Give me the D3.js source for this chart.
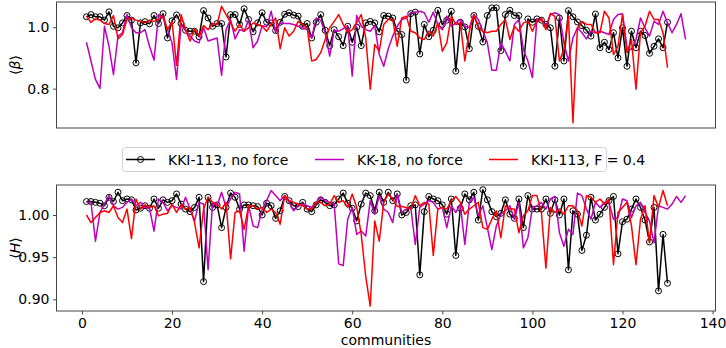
<!DOCTYPE html>
<html>
<head>
<meta charset="utf-8">
<script src="https://cdn.jsdelivr.net/npm/d3@7"></script>
<style>
  html, body { margin: 0; padding: 0; background: #fff; }
  svg { display: block; }
</style>
</head>
<body>
<div id="chart"></div>
<script>
// <beta> per community, KKI-113 without force
const betaNoForce = [
  1.034,1.041,1.034,1.034,1.023,1.050,1.003,0.998,1.014,1.038,
  1.023,0.884,1.014,1.018,1.011,1.038,1.012,1.044,0.965,1.021,
  1.040,1.012,0.990,0.987,0.987,0.969,1.054,1.030,1.003,1.012,
  1.012,0.903,1.041,1.041,1.009,1.060,1.025,0.985,1.014,1.047,
  1.016,1.014,0.989,1.016,1.042,1.047,1.039,1.036,1.003,1.012,
  0.965,1.016,1.041,0.990,0.940,0.992,0.969,0.940,1.003,0.951,
  1.000,0.940,1.014,1.019,1.014,0.985,1.038,1.036,1.030,0.987,
  0.976,0.828,1.044,1.049,0.913,1.009,0.969,0.990,1.055,1.009,
  1.023,1.052,0.857,1.016,1.001,0.930,1.038,1.003,0.952,1.038,
  1.063,1.063,0.924,1.041,1.055,1.038,1.038,0.873,1.027,1.016,
  1.027,1.023,1.009,0.998,0.873,1.030,0.890,1.054,1.034,1.017,
  1.005,0.990,0.971,1.043,0.933,0.951,0.927,0.982,0.900,0.998,
  0.873,0.987,0.933,0.987,0.973,0.915,0.938,0.962,0.933,1.016
];
// <beta>, KK-18 without force
const betaKK18 = [
  0.951,0.890,0.830,0.801,1.003,0.938,0.846,0.971,0.982,1.041,
  0.998,0.982,0.982,0.992,0.938,0.893,1.041,1.030,0.992,0.949,
  0.830,1.009,0.990,0.971,0.955,0.949,0.998,0.955,0.960,0.965,
  0.843,0.992,1.025,0.962,0.992,0.987,1.023,0.933,0.955,1.005,
  1.001,1.052,0.982,1.014,1.012,1.012,1.009,1.003,0.998,0.992,
  0.965,1.030,1.023,0.982,0.906,0.990,0.987,0.995,1.005,0.841,
  1.038,1.003,0.992,0.987,1.005,0.911,0.873,0.930,0.971,1.003,
  1.025,1.030,1.047,1.049,1.052,1.047,1.016,1.049,1.009,0.992,
  1.036,1.003,1.014,1.025,1.003,0.998,1.041,1.025,0.987,0.949,
  0.860,0.860,0.949,0.922,0.890,1.009,1.025,0.927,0.890,0.836,
  1.025,1.023,1.003,1.041,1.047,1.041,0.949,0.890,0.965,0.998,
  0.982,0.962,0.987,0.982,0.987,0.982,0.976,1.025,1.041,1.044,
  0.933,0.927,0.960,1.030,0.998,0.971,1.019,1.009,1.052,1.014,
  0.982,1.009,1.044,0.960
];
// <beta>, KKI-113 with F = 0.4
const betaF04 = [
  1.036,1.016,1.027,1.023,1.012,1.009,1.038,0.962,0.976,1.025,
  1.030,1.023,1.019,1.014,1.023,1.019,1.025,1.038,0.992,1.019,
  0.876,1.041,0.992,0.955,0.995,0.971,1.005,0.992,1.012,1.009,
  1.068,1.041,1.014,0.987,1.009,0.987,0.998,1.014,1.009,1.003,
  0.987,1.009,1.030,0.930,0.998,0.971,0.987,1.019,1.009,0.998,
  0.890,0.895,0.917,0.960,0.998,1.019,1.041,1.009,0.982,0.992,
  1.014,1.041,0.965,0.798,0.944,0.922,1.009,1.025,1.025,0.938,
  1.030,1.036,0.987,0.982,0.965,0.960,0.987,0.971,1.014,0.922,
  0.949,1.036,1.009,1.014,0.890,0.987,1.041,0.998,0.987,0.982,
  0.987,0.987,1.009,1.025,0.960,1.003,0.987,1.014,1.019,0.987,
  1.019,1.030,0.992,1.045,1.035,0.890,0.927,1.036,0.689,0.998,
  1.019,1.009,1.009,0.982,0.982,1.052,1.030,0.911,0.938,1.041,
  0.917,0.960,0.798,0.982,1.003,1.052,1.025,1.025,0.982,0.868
];

// <H> per community
const hNoForce = [
  1.016,1.016,1.015,1.014,1.011,1.021,1.016,1.027,1.017,1.019,
  1.018,1.006,1.008,1.011,1.008,1.019,1.008,1.018,1.015,1.017,
  1.025,1.013,1.007,1.004,1.009,1.021,0.921,1.021,1.009,1.012,
  0.985,1.009,1.026,1.021,1.007,1.012,1.012,1.011,1.010,1.000,
  1.014,1.011,0.996,1.005,1.022,1.017,1.011,1.010,1.015,1.007,
  1.004,1.012,1.018,1.015,1.011,1.012,1.019,1.026,1.014,1.008,
  0.993,1.013,1.026,1.023,1.005,1.027,1.015,1.027,1.017,1.025,
  1.000,1.003,1.011,1.012,0.929,1.004,1.022,1.019,1.017,1.012,
  1.001,1.019,0.952,1.008,1.025,1.018,1.027,0.994,1.030,1.018,
  1.004,0.998,1.002,1.018,1.001,0.996,1.019,0.985,1.023,1.007,
  1.007,1.007,1.019,1.002,1.018,1.000,1.019,0.935,1.005,1.001,
  0.958,0.976,1.021,0.994,1.001,1.009,1.017,1.022,0.954,0.992,
  0.995,1.007,1.019,1.009,0.994,0.968,1.009,0.910,0.977,0.919
];
const hKK18 = [
  1.015,1.015,0.969,1.003,1.013,1.023,1.011,1.007,1.009,1.015,
  1.019,1.011,1.015,1.009,1.008,0.981,1.019,1.015,1.005,1.011,
  1.009,1.007,1.021,1.007,0.993,1.015,1.013,0.935,1.015,1.011,
  1.027,1.009,1.019,1.027,1.025,0.957,1.011,0.987,0.985,1.007,
  1.017,1.029,1.023,1.017,1.023,1.015,1.005,1.011,1.013,1.011,
  1.009,1.015,1.021,1.017,1.015,1.013,0.942,0.940,0.995,1.009,
  0.977,0.981,0.975,1.017,1.001,1.023,1.007,1.003,0.991,1.025,
  1.003,1.007,1.009,0.965,1.009,1.013,1.017,1.015,1.007,1.009,
  0.985,1.011,1.003,1.013,0.965,1.015,1.021,0.999,1.011,0.985,
  0.959,0.987,1.001,1.005,1.011,0.995,1.015,0.961,0.973,1.009,
  1.011,1.015,1.007,1.019,1.022,0.979,0.963,0.983,0.977,1.026,
  1.023,1.007,0.995,1.015,1.009,1.015,1.015,0.995,0.997,1.019,
  1.017,0.997,1.011,1.015,1.003,0.993,0.967,1.011,1.009,1.007,
  1.013,1.022,1.015,1.023
];
const hF04 = [
  1.000,0.991,0.997,1.003,1.005,1.003,1.011,0.997,0.991,1.007,
  0.972,1.019,1.007,1.012,1.009,1.011,0.999,1.001,1.002,1.013,
  1.003,1.012,1.007,1.009,0.991,0.961,1.007,1.021,1.015,1.013,
  1.007,1.015,0.948,1.003,1.005,0.983,1.011,1.011,1.007,1.009,
  1.003,1.007,1.003,0.989,1.023,1.017,1.015,1.013,1.011,1.007,
  1.007,1.015,1.015,1.011,1.013,1.023,1.015,1.017,1.009,1.025,
  1.009,0.977,0.927,0.892,0.993,0.969,1.015,1.025,1.019,1.010,
  1.010,1.009,1.007,1.023,1.011,1.015,1.013,0.952,1.007,1.009,
  1.007,1.017,1.022,1.015,1.001,1.007,1.011,1.015,0.985,0.983,
  0.995,1.005,0.973,1.011,1.007,1.007,0.979,0.999,1.005,1.023,
  1.023,1.003,0.937,1.009,1.003,1.007,1.001,1.011,1.011,1.005,
  0.987,1.023,1.021,1.015,1.019,1.013,1.019,0.941,1.003,1.009,
  1.015,0.987,0.941,0.995,1.011,0.967,1.023,1.009,1.029,1.011
];

const seriesNames = ["KKI-113, no force", "KK-18, no force", "KKI-113, F = 0.4"];
const seriesColors = ["#000000", "#bf00bf", "#ff0000"];
const xTicks = [0, 20, 40, 60, 80, 100, 120, 140];
const betaTicks = [0.8, 1.0];
const hTicks = [0.90, 0.95, 1.00];

(function () {
  "use strict";
  const W = 726, H = 348;
  const FONT = "'DejaVu Sans', sans-serif";
  const FS = 14;

  const svg = d3.select("#chart").append("svg").attr("width", W).attr("height", H);

  const x = d3.scaleLinear().domain([-5.65, 140.65]).range([56.5, 715.5]);

  const panels = [
    { label: "β", series: [betaNoForce, betaKK18, betaF04],
      y: d3.scaleLinear().domain([0.672, 1.082]).range([128, 2]),
      ticks: betaTicks, fmt: d3.format(".1f"), xaxis: false },
    { label: "H", series: [hNoForce, hKK18, hF04],
      y: d3.scaleLinear().domain([0.8861, 1.0356]).range([311, 185]),
      ticks: hTicks, fmt: d3.format(".2f"), xaxis: true }
  ];

  panels.forEach(p => {
    const g = svg.append("g");
    const [y1, y0] = p.y.range();
    const clipId = "clip-" + p.label.charCodeAt(0);
    svg.append("clipPath").attr("id", clipId).append("rect")
      .attr("x", x.range()[0]).attr("y", y0)
      .attr("width", x.range()[1] - x.range()[0]).attr("height", y1 - y0);

    const line = d3.line().x((d, i) => x(i + 1)).y(d => p.y(d));
    const plot = g.append("g").attr("clip-path", `url(#${clipId})`);

    p.series.forEach((vals, k) => {
      plot.append("path").datum(vals)
        .attr("d", line).attr("fill", "none")
        .attr("stroke", seriesColors[k]).attr("stroke-width", 1.5)
        .attr("stroke-linejoin", "round");
      if (k === 0) {
        plot.selectAll(null).data(vals).join("circle")
          .attr("cx", (d, i) => x(i + 1)).attr("cy", d => p.y(d))
          .attr("r", 3).attr("fill", "none")
          .attr("stroke", "#000").attr("stroke-width", 1);
      }
    });

    // y axis
    const ya = g.append("g").attr("transform", `translate(${x.range()[0]},0)`)
      .call(d3.axisLeft(p.y).tickValues(p.ticks).tickFormat(p.fmt).tickSize(3.5).tickPadding(3.5));
    ya.select(".domain").remove();
    ya.selectAll("line").attr("stroke", "#333").attr("stroke-width", 0.9);
    ya.selectAll("text").attr("font-family", FONT).attr("font-size", FS).attr("fill", "#000");

    if (p.xaxis) {
      const xa = g.append("g").attr("transform", `translate(0,${y1})`)
        .call(d3.axisBottom(x).tickValues(xTicks).tickFormat(d3.format("d")).tickSize(3.5).tickPadding(3.5));
      xa.select(".domain").remove();
      xa.selectAll("line").attr("stroke", "#333").attr("stroke-width", 0.9);
      xa.selectAll("text").attr("font-family", FONT).attr("font-size", FS).attr("fill", "#000");
    }

    // frame
    g.append("rect")
      .attr("x", x.range()[0]).attr("y", y0)
      .attr("width", x.range()[1] - x.range()[0]).attr("height", y1 - y0)
      .attr("fill", "none").attr("stroke", "#444").attr("stroke-width", 1);

    // y label  <β> / <H>
    const yl = g.append("text")
      .attr("transform", `translate(15,${(y0 + y1) / 2}) rotate(-90)`)
      .attr("text-anchor", "middle").attr("dominant-baseline", "central")
      .attr("font-family", FONT).attr("font-size", FS);
    yl.append("tspan").text("⟨");
    yl.append("tspan").attr("font-style", "italic").text(p.label);
    yl.append("tspan").text("⟩");
  });

  // x label
  svg.append("text").attr("x", (x.range()[0] + x.range()[1]) / 2).attr("y", 345)
    .attr("text-anchor", "middle").attr("font-family", FONT).attr("font-size", FS)
    .text("communities");

  // legend
  const lg = svg.append("g");
  lg.append("rect").attr("x", 122.5).attr("y", 147.5).attr("width", 484).attr("height", 24)
    .attr("rx", 3).attr("fill", "#fff").attr("stroke", "#d0d0d0").attr("stroke-width", 1);
  const entryX = [126, 315, 489];
  seriesNames.forEach((name, k) => {
    const ex = entryX[k], ey = 159.5;
    lg.append("line").attr("x1", ex).attr("x2", ex + 29).attr("y1", ey).attr("y2", ey)
      .attr("stroke", seriesColors[k]).attr("stroke-width", 1.5);
    if (k === 0) {
      lg.append("circle").attr("cx", ex + 14.5).attr("cy", ey).attr("r", 3)
        .attr("fill", "none").attr("stroke", "#000").attr("stroke-width", 1);
    }
    lg.append("text").attr("x", ex + 42).attr("y", ey)
      .attr("dominant-baseline", "central")
      .attr("font-family", FONT).attr("font-size", FS).text(name);
  });
})();
</script>
</body>
</html>
